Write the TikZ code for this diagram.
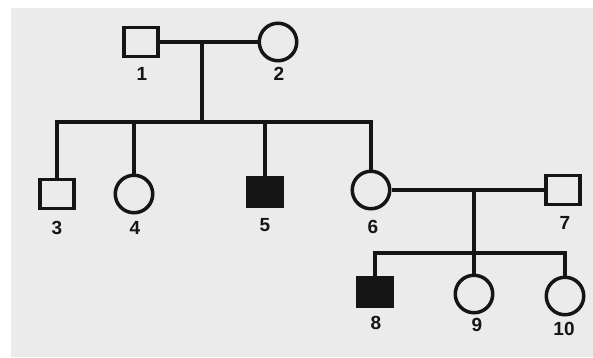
\documentclass[tikz,border=0pt]{standalone}
\usepackage{fontspec}
\setmainfont{Liberation Sans}
\definecolor{paper}{HTML}{EBEBEB}
\definecolor{ink}{HTML}{151515}
\begin{document}
\begin{tikzpicture}[x=1pt,y=-1pt,
  line width=3.5pt, draw=ink,
  male/.style={draw=ink, rectangle, minimum width=34pt, minimum height=29pt, line width=3.5pt, inner sep=0pt},
  female/.style={draw=ink, circle, minimum size=37.5pt, line width=3.5pt, inner sep=0pt},
  affected/.style={fill=ink},
  lab/.style={font=\bfseries\fontsize{19}{19}\selectfont, text=ink, inner sep=0pt}]
\useasboundingbox (0,0) rectangle (593,357);
\fill[white] (0,0) rectangle (593,357);
\fill[paper] (11,8) rectangle (593,357);
% individuals
\node[male]   (n1)  at (141,42)  {};
\node[female] (n2)  at (278,42)  {};
\node[male]   (n3)  at (57,194)  {};
\node[female] (n4)  at (134,194) {};
\node[male,affected] (n5) at (265,192) {};
\node[female] (n6)  at (371,190) {};
\node[male]   (n7)  at (563,190) {};
\node[male,affected] (n8) at (375,292) {};
\node[female] (n9)  at (474,294) {};
\node[female] (n10) at (565,296) {};
% labels
\node[lab] (l1)  at (142,74)  {1};
\node[lab] (l2)  at (279,74)  {2};
\node[lab] (l3)  at (57,228)  {3};
\node[lab] (l4)  at (135,228) {4};
\node[lab] (l5)  at (265,225) {5};
\node[lab] (l6)  at (373,227) {6};
\node[lab] (l7)  at (565,223) {7};
\node[lab] (l8)  at (376,323) {8};
\node[lab] (l9)  at (477,325) {9};
\node[lab] (l10) at (564,329) {10};
% coordinates
\coordinate (m1) at (202,42);
\coordinate (s1) at (202,122);
\coordinate (m2) at (474,190);
\coordinate (s2) at (474,253);
% first generation
\draw (n1) -- (n2);
\draw (m1) -- (s1);
\draw (n3.north) |- (s1) -| (n6.north);
\draw (n4.north |- s1) -- (n4.north);
\draw (n5.north |- s1) -- (n5.north);
% second marriage
\draw (n6) -- (n7);
\draw (m2) -- (s2);
\draw (n8.north) |- (s2) -| (n10.north);
\draw (n9.north |- s2) -- (n9.north);
\end{tikzpicture}
\end{document}
